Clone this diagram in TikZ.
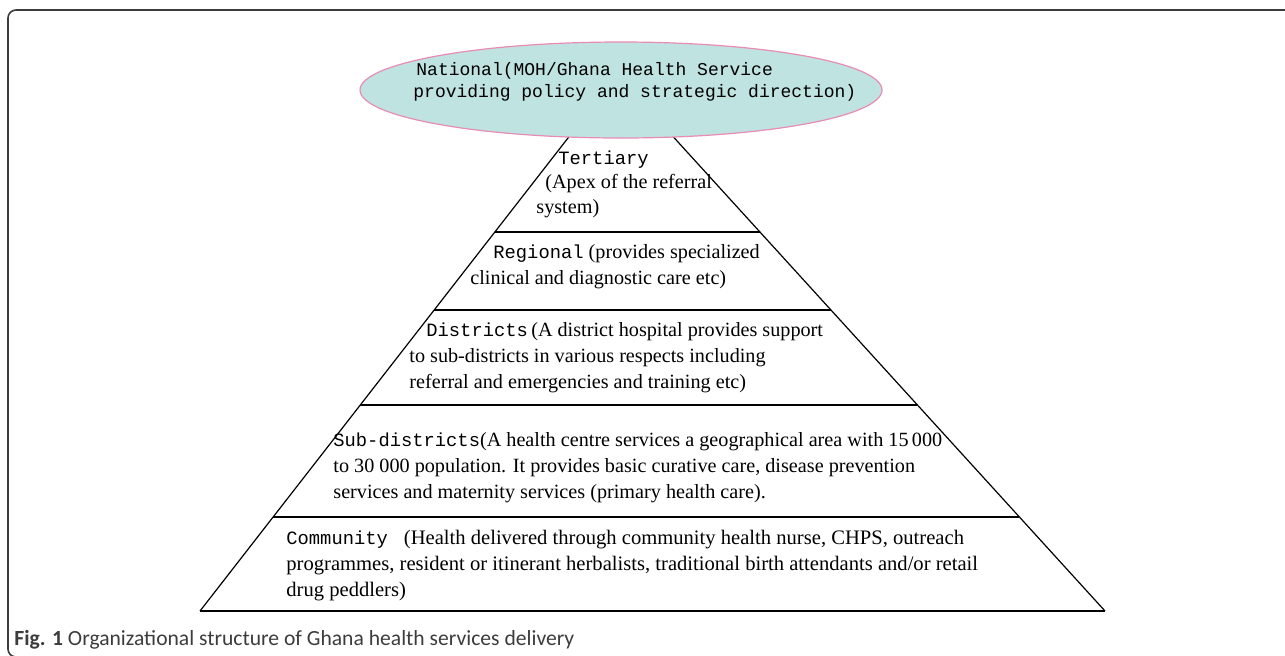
\documentclass[tikz,border=0pt]{standalone}
\usepackage{fontspec}
\setmainfont{Liberation Serif}
\newfontfamily\monofont{Liberation Mono}
\newfontfamily\capfont{Carlito}
\usetikzlibrary{shapes.geometric,calc}

\definecolor{nationalfill}{RGB}{191,227,224}
\definecolor{nationaldraw}{RGB}{232,140,180}
\definecolor{framegray}{RGB}{60,60,60}

\tikzset{
  frame/.style={draw=framegray, line width=0.8pt, rounded corners=4pt},
  sideline/.style={line width=0.6pt},
  tierline/.style={line width=0.95pt},
  national/.style={ellipse, draw=nationaldraw, fill=nationalfill, line width=0.6pt,
    minimum width=261pt, minimum height=48pt, inner sep=0pt},
  % anchored at the baseline of the last line
  tiertext/.style={anchor=base west, align=left, inner sep=0pt,
    font=\fontsize{10.1}{12.8}\selectfont},
  caption/.style={anchor=base west, inner sep=0pt, text=framegray,
    font=\capfont\fontsize{10.8}{12}\selectfont}
}
\newcommand{\tiername}[1]{{\monofont\fontsize{9.4}{12}\selectfont #1}}

\begin{document}
\begin{tikzpicture}[x=0.5pt,y=-0.5pt]
\useasboundingbox (0,0) rectangle (1285,655);
\clip (0,0) rectangle (1285,655);
\draw[frame] (8,10) rectangle (1300,657);

% pyramid
\coordinate (apex) at (617,75);
\coordinate (bl) at (200,611);
\coordinate (br) at (1105,611);
\draw[sideline] (bl) -- (apex) -- (br);
\draw[tierline] (bl) -- (br);
\foreach \t/\lvl in {0.2929/ter,0.4384/reg,0.6157/dis,0.8246/sub}{
  \coordinate (\lvl-l) at ($(apex)!\t!(bl)$);
  \coordinate (\lvl-r) at ($(apex)!\t!(br)$);
  \draw[tierline] (\lvl-l) -- (\lvl-r);
}

% top of the system
\node[national] (national) at (621,90) {};
\node[tiertext, font=\monofont\fontsize{9}{11}\selectfont] (nationaltext) at (413,97)
  {\hspace*{1.5pt}National(MOH/Ghana Health Service\\providing policy and strategic direction)};

% levels
\node[tiertext, font=\fontsize{10.1}{12.2}\selectfont] (tertiary) at (536,213)
  {\hspace*{11pt}\tiername{Tertiary}\\\hspace*{4.5pt}(Apex of the referral\\system)};
\node[tiertext] (regional) at (470,284)
  {\hspace*{11.5pt}\tiername{Regional} (provides specialized\\clinical and diagnostic care etc)};
\node[tiertext] (districts) at (409,388)
  {\hspace*{8.5pt}\tiername{Districts}\,(A district hospital provides support\\to sub-districts in various respects including\\referral and emergencies and training etc)};
\node[tiertext] (subdistricts) at (333,498)
  {\tiername{Sub-districts}(A health centre services a geographical area with 15\,000\\to 30 000 population. It provides basic curative care, disease prevention\\services and maternity services (primary health care).};
\node[tiertext, font=\fontsize{10.3}{13}\selectfont] (community) at (286,596)
  {\tiername{Community}\hspace{8pt}(Health delivered through community health nurse, CHPS, outreach\\programmes, resident or itinerant herbalists, traditional birth attendants and/or retail\\drug peddlers)};

\node[caption] (caption) at (14,645)
  {\textbf{Fig. 1} Organizational structure of Ghana health services delivery};
\end{tikzpicture}
\end{document}
